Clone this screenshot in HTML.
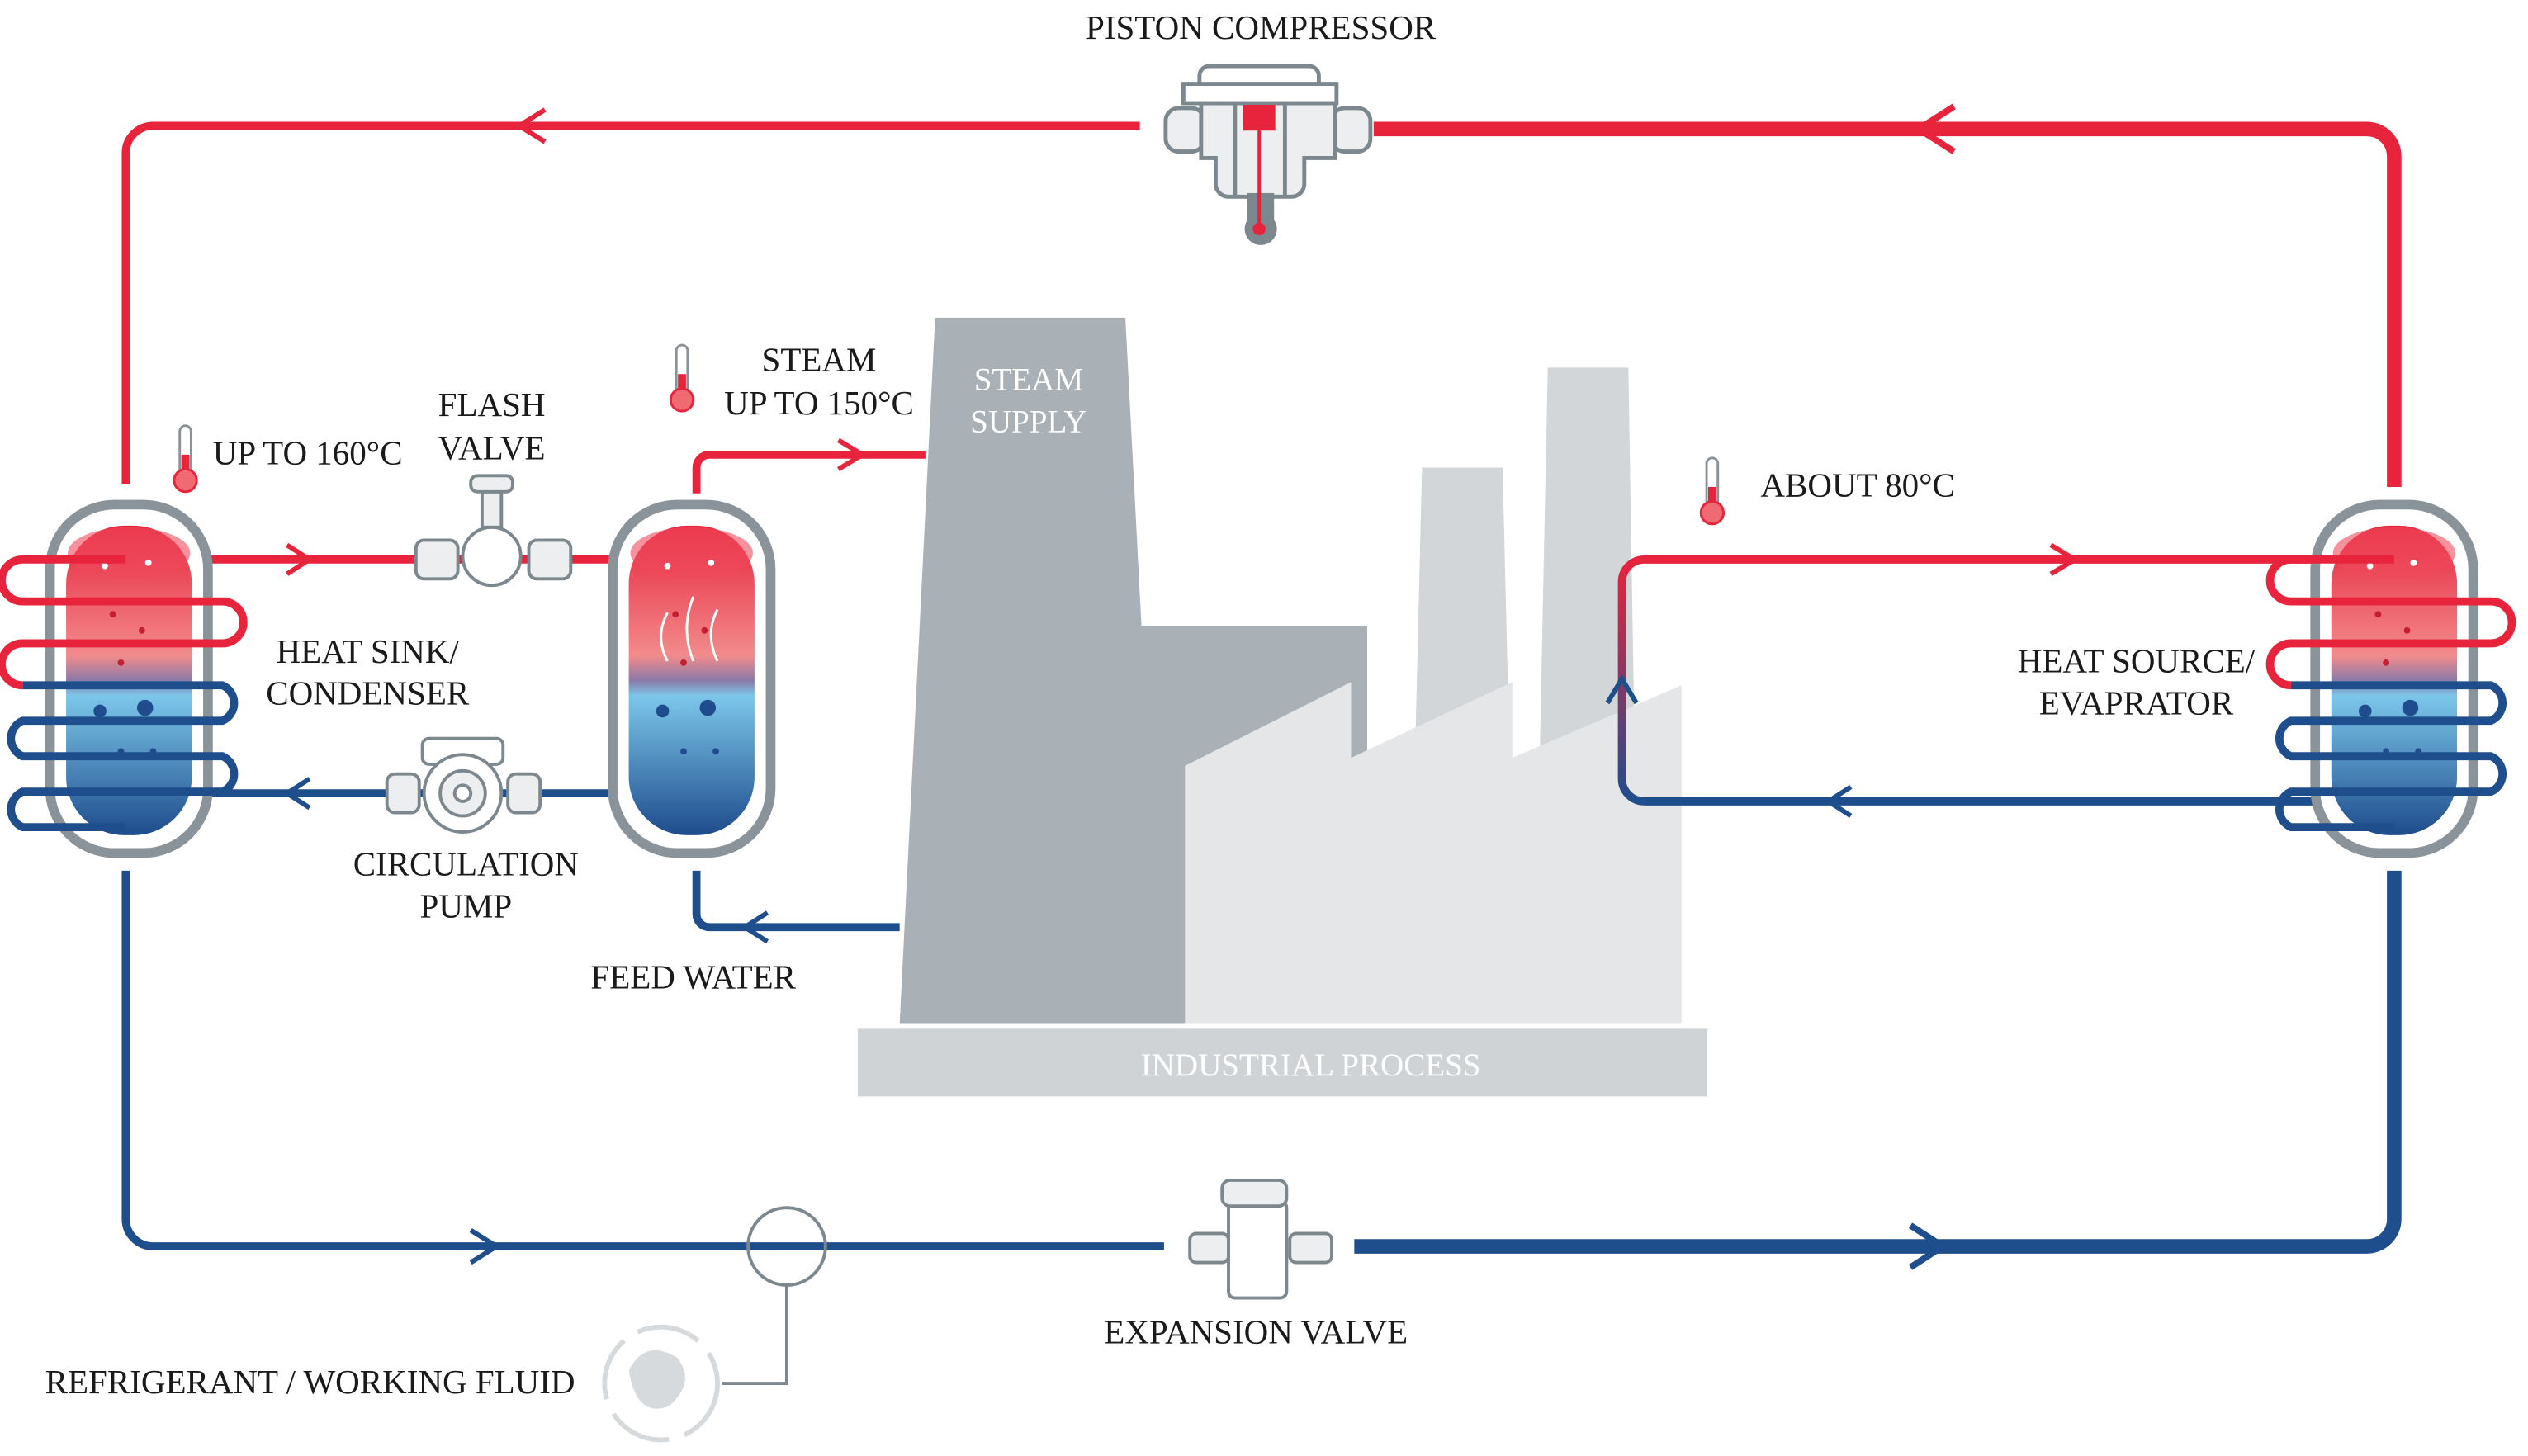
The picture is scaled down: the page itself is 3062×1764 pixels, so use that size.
<!DOCTYPE html>
<html><head><meta charset="utf-8"><style>
html,body{margin:0;padding:0;background:#fff;}
svg{display:block;}
text{font-family:"Liberation Serif",serif;fill:#1a1a1a;}
</style></head><body>
<svg width="3062" height="1764" viewBox="0 0 1568 903" preserveAspectRatio="none" xmlns="http://www.w3.org/2000/svg">
<defs>
<linearGradient id="tank" x1="0" y1="0" x2="0" y2="1">
<stop offset="0" stop-color="#e8243c"/><stop offset="0.42" stop-color="#f28b8b"/>
<stop offset="0.5" stop-color="#8a7aa8"/><stop offset="0.55" stop-color="#7cc6ea"/>
<stop offset="1" stop-color="#1e4c8c"/></linearGradient>
<linearGradient id="vloop" x1="0" y1="0" x2="0" y2="1">
<stop offset="0" stop-color="#e8243c"/><stop offset="1" stop-color="#1f4e8c"/></linearGradient>
<g id="tankg">
<rect x="-49" y="-108" width="98" height="216" rx="40" fill="#fff" stroke="#8a9399" stroke-width="6"/>
<rect x="-39" y="-95" width="78" height="192" rx="36" fill="url(#tank)"/>
<ellipse cx="0" cy="-78" rx="38" ry="16" fill="#ee4a5c" opacity="0.6"/>
<circle cx="-15" cy="-70" r="2" fill="#fff"/><circle cx="12" cy="-72" r="2" fill="#fff"/>
<circle cx="-10" cy="-40" r="2" fill="#c51d34"/><circle cx="8" cy="-30" r="2" fill="#c51d34"/>
<circle cx="-5" cy="-10" r="2" fill="#c51d34"/>
<circle cx="-18" cy="20" r="4" fill="#1e4c8c"/><circle cx="10" cy="18" r="5" fill="#1e4c8c"/>
<circle cx="-5" cy="45" r="2" fill="#1e4c8c"/><circle cx="15" cy="45" r="2" fill="#1e4c8c"/>
</g>
<g id="coils" fill="none" stroke-width="5">
<path d="M0,0 H-64 a12,12 0 0 0 0,26 H60 a12,12 0 0 1 0,26 H-64 a12,12 0 0 0 0,26" stroke="#e8243c"/>
<path d="M-64,78 H60 a12,12 0 0 1 0,22 H-64 a12,12 0 0 0 0,22 H60 a12,12 0 0 1 0,22 H-64 a12,12 0 0 0 0,22 H0" stroke="#1f4e8c"/>
</g>
<g id="therm">
<rect x="-3.5" y="-26" width="7" height="30" rx="3.5" fill="#fff" stroke="#8a9399" stroke-width="1.5"/>
<rect x="-2.5" y="-8" width="5" height="12" fill="#e8243c"/>
<circle cx="0" cy="8" r="7" fill="#ef6a72" stroke="#e8243c" stroke-width="1.5"/>
</g>
</defs>

<!-- main loop -->
<g fill="none" stroke-linecap="butt">
<path d="M78,300 V95 a17,17 0 0 1 17,-17 H707" stroke="#e8243c" stroke-width="5"/>
<path d="M852,80 H1468 a17,17 0 0 1 17,17 V302" stroke="#e8243c" stroke-width="9"/>
<path d="M78,540 V756 a17,17 0 0 0 17,17 H722" stroke="#1f4e8c" stroke-width="5"/>
<path d="M840,773 H1468 a17,17 0 0 0 17,-17 V540" stroke="#1f4e8c" stroke-width="9"/>
<path d="M338,68 L322,78 L338,88" stroke="#e8243c" stroke-width="3"/>
<path d="M1212,66 L1190,80 L1212,94" stroke="#e8243c" stroke-width="4"/>
<path d="M292,763 L308,773 L292,783" stroke="#1f4e8c" stroke-width="3"/>
<path d="M1185,760 L1205,773 L1185,786" stroke="#1f4e8c" stroke-width="4"/>
<path d="M130,347 H380" stroke="#e8243c" stroke-width="5"/>
<path d="M178,338 L192,347 L178,356" stroke="#e8243c" stroke-width="3"/>
<path d="M130,492 H380" stroke="#1f4e8c" stroke-width="5"/>
<path d="M192,483 L178,492 L192,501" stroke="#1f4e8c" stroke-width="3"/>
<path d="M432,306 V290 a8,8 0 0 1 8,-8 H574" stroke="#e8243c" stroke-width="5"/>
<path d="M520,273 L535,282 L520,291" stroke="#e8243c" stroke-width="3"/>
<path d="M432,540 V567 a8,8 0 0 0 8,8 H558" stroke="#1f4e8c" stroke-width="5"/>
<path d="M476,566 L462,575 L476,584" stroke="#1f4e8c" stroke-width="3"/>
</g>

<!-- factory -->
<polygon points="558,635 580,197 698,197 708,388 848,388 848,635" fill="#a9b1b7"/>
<polygon points="878,455 882,290 932,290 936,455" fill="#d2d6d9"/>
<polygon points="955,470 960,228 1010,228 1014,470" fill="#d2d6d9"/>
<polygon points="735,635 735,475 838,423 838,470 938,423 938,470 1043,425 1043,635" fill="#e4e6e8"/>
<rect x="532" y="638" width="527" height="42" fill="#d0d3d6"/>
<text x="813" y="667" text-anchor="middle" font-size="20" style="fill:#fff">INDUSTRIAL PROCESS</text>
<text x="638" y="242" text-anchor="middle" font-size="20" style="fill:#fff">STEAM</text>
<text x="638" y="268" text-anchor="middle" font-size="20" style="fill:#fff">SUPPLY</text>

<!-- right loop (over factory) -->
<g fill="none">
<path d="M1435,347 H1020 a14,14 0 0 0 -14,14 V483 a14,14 0 0 0 14,14 H1435" stroke="url(#vloop)" stroke-width="5"/>
<path d="M1435,347 H1020" stroke="#e8243c" stroke-width="5"/>
<path d="M1435,497 H1020" stroke="#1f4e8c" stroke-width="5"/>
<path d="M1272,338 L1287,347 L1272,356" stroke="#e8243c" stroke-width="3"/>
<path d="M1148,488 L1134,497 L1148,506" stroke="#1f4e8c" stroke-width="3"/>
<path d="M997,436 L1006,421 L1015,436" stroke="#1f4e8c" stroke-width="3"/>
</g>

<!-- tanks -->
<use href="#tankg" x="80" y="421"/>
<use href="#coils" x="78" y="347"/>
<use href="#tankg" x="429" y="421"/>
<g fill="none" stroke="#fff" stroke-width="1.5"><path d="M414,380 q-8,15 0,30"/><path d="M430,370 q-8,20 0,40"/><path d="M445,378 q-8,15 0,32"/></g>
<use href="#tankg" x="1485" y="421"/>
<use href="#coils" x="1485" y="347"/>

<!-- compressor -->
<g stroke="#7d878e" stroke-width="2.5" fill="#eceeef">
<rect x="723" y="67" width="24" height="27" rx="8"/>
<rect x="826" y="67" width="24" height="27" rx="8"/>
<path d="M745,64 V98 H754 V114 a8,8 0 0 0 8,8 H801 a8,8 0 0 0 8,-8 V98 H828 V64 Z" fill="#eceeef"/>
<rect x="744" y="41" width="74" height="16" rx="6" fill="#fff"/>
<rect x="734" y="52" width="95" height="12" fill="#fff"/>
<line x1="766" y1="64" x2="766" y2="121"/><line x1="797" y1="64" x2="797" y2="121"/>
<rect x="775" y="121" width="14" height="20" fill="#7d878e"/>
<circle cx="782" cy="142" r="10" fill="#7d878e" stroke="none"/>
</g>
<rect x="771" y="65" width="20" height="16" fill="#e8243c"/>
<line x1="781" y1="80" x2="781" y2="140" stroke="#e8243c" stroke-width="2"/>
<circle cx="781" cy="142" r="4" fill="#e8243c"/>

<!-- flash valve -->
<g stroke="#7d878e" stroke-width="2" fill="#eceeef">
<rect x="258" y="335" width="26" height="24" rx="5"/><rect x="328" y="335" width="26" height="24" rx="5"/>
<circle cx="305" cy="345" r="18" fill="#fff"/>
<rect x="299" y="305" width="12" height="22" fill="#eceeef"/>
<rect x="292" y="295" width="26" height="10" rx="4"/>
</g>
<!-- pump -->
<g stroke="#7d878e" stroke-width="2" fill="#eceeef">
<rect x="240" y="480" width="20" height="24" rx="5"/><rect x="315" y="480" width="20" height="24" rx="5"/>
<rect x="262" y="458" width="50" height="16" rx="4" fill="#fff"/>
<circle cx="287" cy="492" r="24" fill="#fff"/>
<circle cx="287" cy="492" r="14"/><circle cx="287" cy="492" r="5" fill="#fff"/>
</g>
<!-- expansion valve -->
<g stroke="#7d878e" stroke-width="2" fill="#eceeef">
<rect x="738" y="765" width="24" height="18" rx="4"/><rect x="800" y="765" width="26" height="18" rx="4"/>
<rect x="762" y="745" width="36" height="60" rx="4" fill="#fff"/>
<rect x="758" y="732" width="40" height="16" rx="5"/>
</g>
<!-- refrigerant icon -->
<circle cx="488" cy="773" r="24" fill="none" stroke="#7d878e" stroke-width="2"/>
<path d="M488,797 V858 H448" fill="none" stroke="#7d878e" stroke-width="2"/>
<circle cx="410" cy="858" r="35" fill="none" stroke="#d7dadc" stroke-width="3" stroke-dasharray="40 10"/>
<path d="M390,850 q10,-20 30,-8 q12,15 -5,30 q-20,8 -25,-22z" fill="#d7dadc"/>

<!-- thermometers -->
<use href="#therm" x="115" y="290"/>
<use href="#therm" x="423" y="240"/>
<use href="#therm" x="1062" y="310"/>

<!-- labels -->
<g font-size="21">
<text x="782" y="24" text-anchor="middle">PISTON COMPRESSOR</text>
<text x="132" y="288">UP TO 160°C</text>
<text x="305" y="258" text-anchor="middle">FLASH</text>
<text x="305" y="285" text-anchor="middle">VALVE</text>
<text x="508" y="230" text-anchor="middle">STEAM</text>
<text x="508" y="257" text-anchor="middle">UP TO 150°C</text>
<text x="1092" y="308">ABOUT 80°C</text>
<text x="228" y="411" text-anchor="middle">HEAT SINK/</text>
<text x="228" y="437" text-anchor="middle">CONDENSER</text>
<text x="1325" y="417" text-anchor="middle">HEAT SOURCE/</text>
<text x="1325" y="443" text-anchor="middle">EVAPRATOR</text>
<text x="289" y="543" text-anchor="middle">CIRCULATION</text>
<text x="289" y="569" text-anchor="middle">PUMP</text>
<text x="430" y="613" text-anchor="middle">FEED WATER</text>
<text x="779" y="833" text-anchor="middle">EXPANSION VALVE</text>
<text x="28" y="864">REFRIGERANT / WORKING FLUID</text>
</g>
</svg>
</body></html>
